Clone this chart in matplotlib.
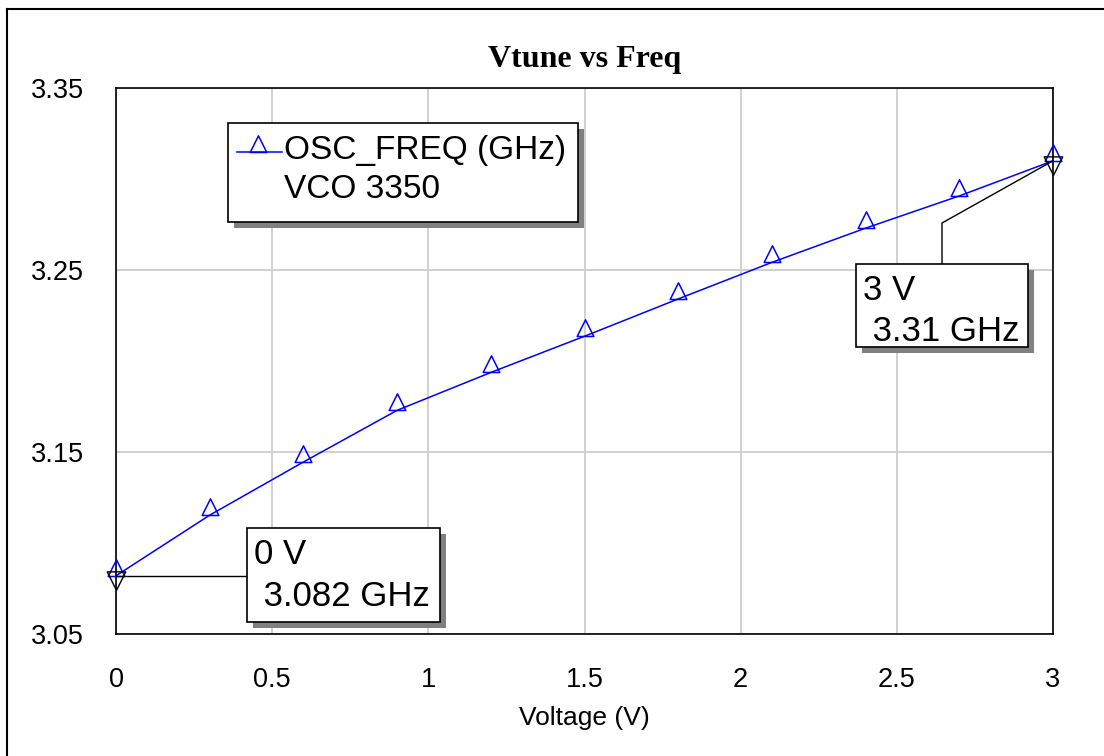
import numpy as np
import matplotlib.pyplot as plt
from matplotlib.patches import Rectangle
from matplotlib.lines import Line2D
from matplotlib.path import Path

# data
voltage = [0, 0.3, 0.6, 0.9, 1.2, 1.5, 1.8, 2.1, 2.4, 2.7, 3.0]
freq_ghz = [3.082, 3.1153, 3.1445, 3.1729, 3.1937, 3.2136, 3.2341, 3.2542, 3.273, 3.2907, 3.31]
x_ticks = [0, 0.5, 1, 1.5, 2, 2.5, 3]
x_tick_labels = ["0", "0.5", "1", "1.5", "2", "2.5", "3"]
y_ticks = [3.05, 3.15, 3.25, 3.35]
y_tick_labels = ["3.05", "3.15", "3.25", "3.35"]
legend_lines = ["OSC_FREQ (GHz)", "VCO 3350"]
marker_idx = [0, 10]
marker_text = [("0 V", " 3.082 GHz"), ("3 V", " 3.31 GHz")]

plt.rcParams['font.family'] = ['Liberation Sans', 'DejaVu Sans']

W, H = 1104, 756
fig = plt.figure(figsize=(11.04, 7.56), dpi=100)


def fx(x):
    return x / W


def fy(y):
    return 1 - y / H


# triangle with base on the data point
up_tri = Path([(-1, 0), (1, 0), (0, 2), (-1, 0)], closed=True)
down_tri = Path([(-1, 0.5), (1, 0.5), (0, -1.5), (-1, 0.5)], closed=True)

ax = fig.add_axes([fx(116), fy(634), fx(1053) - fx(116), fy(88) - fy(634)])
ax.plot(voltage, freq_ghz, color='#0000ff', lw=1.1, marker=up_tri, ms=24,
        mfc='none', mec='#0000ff', mew=1.1, clip_on=False, zorder=3)
ax.plot([voltage[i] for i in marker_idx], [freq_ghz[i] for i in marker_idx],
        ls='none', marker=down_tri, ms=20, mfc='none', mec='black', mew=1.0,
        clip_on=False, zorder=4)

ax.set_xlim(0, 3)
ax.set_ylim(3.05, 3.35)
ax.set_xticks(x_ticks)
ax.set_xticklabels(x_tick_labels)
ax.set_yticks(y_ticks)
ax.set_yticklabels(y_tick_labels)
ax.tick_params(length=0, labelsize=19.5)
ax.tick_params(axis='y', pad=23)
ax.tick_params(axis='x', pad=24)
ax.grid(True, color='#d0d0d0', lw=1.4)
for s in ax.spines.values():
    s.set_linewidth(1.2)
ax.set_xlabel("Voltage (V)", fontsize=19, labelpad=9)

fig.text(fx(585), fy(60), "Vtune vs Freq", family=['Liberation Serif'],
         fontweight='bold', fontsize=23, ha='center', va='center')

# outer frame (left and top only)
fig.add_artist(Line2D([fx(7), fx(7)], [0, fy(9)], color='black', lw=1.5,
                      transform=fig.transFigure))
fig.add_artist(Line2D([fx(7), 1], [fy(9), fy(9)], color='black', lw=1.5,
                      transform=fig.transFigure))


def shadow_box(x0, y0, x1, y1):
    fig.add_artist(Rectangle((fx(x0 + 6), fy(y1 + 6)), (x1 - x0) / W, (y1 - y0) / H,
                             transform=fig.transFigure, facecolor='#808080',
                             edgecolor='none', zorder=5))
    fig.add_artist(Rectangle((fx(x0), fy(y1)), (x1 - x0) / W, (y1 - y0) / H,
                             transform=fig.transFigure, facecolor='white',
                             edgecolor='black', lw=1.2, zorder=6))


def data_to_fig(x, y):
    disp = ax.transData.transform((x, y))
    return fig.transFigure.inverted().transform(disp)


# legend box
shadow_box(228, 123, 578, 222)
fig.add_artist(Line2D([fx(237), fx(282)], [fy(152), fy(152)], color='#0000ff',
                      lw=1.1, transform=fig.transFigure, zorder=7))
fig.add_artist(Line2D([fx(258)], [fy(152)], marker=up_tri, ms=24, mfc='none',
                      mec='#0000ff', mew=1.1, transform=fig.transFigure, zorder=7))
fig.text(fx(284), fy(150), legend_lines[0], fontsize=24, va='center', zorder=7)
fig.text(fx(284), fy(190), legend_lines[1], fontsize=24, va='center', zorder=7)

# marker 1 (0 V)
p0 = data_to_fig(voltage[marker_idx[0]], freq_ghz[marker_idx[0]])
fig.add_artist(Line2D([p0[0], fx(247)], [p0[1], p0[1]], color='black', lw=1.0,
                      transform=fig.transFigure, zorder=4))
shadow_box(247, 528, 440, 622)
fig.text(fx(254), fy(555), marker_text[0][0], fontsize=25, va='center', zorder=7)
fig.text(fx(254), fy(597), marker_text[0][1], fontsize=25, va='center', zorder=7)

# marker 2 (3 V)
p1 = data_to_fig(voltage[marker_idx[1]], freq_ghz[marker_idx[1]])
fig.add_artist(Line2D([p1[0], fx(942), fx(942)], [p1[1], fy(223), fy(264)],
                      color='black', lw=1.0, transform=fig.transFigure, zorder=4))
shadow_box(856, 264, 1028, 347)
fig.text(fx(863), fy(290), marker_text[1][0], fontsize=25, va='center', zorder=7)
fig.text(fx(863), fy(331), marker_text[1][1], fontsize=25, va='center', zorder=7)

fig.savefig("out.png", dpi=100)
